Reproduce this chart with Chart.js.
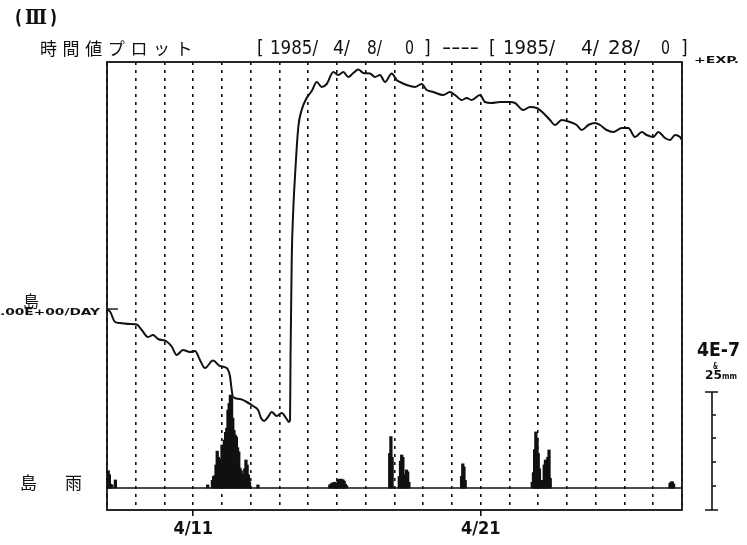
<!DOCTYPE html>
<html>
<head>
<meta charset="utf-8">
<script src="https://cdn.jsdelivr.net/npm/chart.js@4"></script>
<style>
  html, body { margin: 0; padding: 0; background: #fff; }
  #wrap { width: 747px; height: 545px; }
</style>
</head>
<body>
<div id="wrap"><canvas id="plot" width="747" height="545"></canvas></div>
<script>
// hours counted from 1985/4/8 0h
var LINE_HOURS = [0, 2.5, 6.7, 10.9, 19.2, 24.8, 29, 34.2, 38.4, 42.6, 49.8, 54, 58.2, 63.4, 69.3, 73.5,
    77.6, 81.8, 88.5, 94.3, 99.9, 102.7, 104.1, 105.2, 111, 116.6, 121.9, 126.1, 128.6, 131.1, 134.4,
    137.5, 141.7, 145.8, 150, 151.9, 152.8, 153.2, 154.2, 155.5, 156.9, 159.7, 162.5, 166.7, 170.9,
    175.1, 179.2, 183.4, 188.9, 193.1, 197.3, 201.4, 205.6, 209.8, 214, 219.5, 223.7, 227.9, 232.1,
    237.7, 241.8, 244.6, 250.2, 257.1, 262.7, 266.9, 272.4, 280.7, 286.3, 290.5, 296.1, 300.3, 304.4,
    311.4, 315.5, 321.1, 328.1, 336.4, 340.6, 347.5, 353.1, 358.7, 364.2, 369.8, 374, 379.6, 386.5,
    392.1, 396.3, 401.8, 407.4, 411.6, 417.1, 422.7, 429.7, 435.2, 440.8, 446.4, 450.5, 456.1, 460.2,
    465.8, 470, 474.2, 478.3, 480];
var LEVEL = [-0.02, -0.05, -0.26, -0.28, -0.30, -0.31, -0.42, -0.56, -0.52, -0.60, -0.65, -0.75, -0.92, -0.82, -0.86, -0.84,
    -1.02, -1.18, -1.03, -1.14, -1.18, -1.35, -1.62, -1.76, -1.80, -1.86, -1.94, -2.02, -2.18, -2.24, -2.16,
    -2.06, -2.14, -2.08, -2.20, -2.26, -2.22, -0.96, 0.98, 1.98, 2.64, 3.64, 3.98, 4.22, 4.36,
    4.54, 4.44, 4.50, 4.74, 4.68, 4.74, 4.64, 4.72, 4.79, 4.72, 4.71, 4.64, 4.68, 4.54,
    4.71, 4.58, 4.54, 4.48, 4.44, 4.50, 4.38, 4.34, 4.28, 4.34, 4.28, 4.18, 4.22, 4.18,
    4.28, 4.14, 4.12, 4.14, 4.14, 4.12, 3.98, 4.04, 4.02, 3.92, 3.78, 3.68, 3.78, 3.74,
    3.68, 3.58, 3.68, 3.72, 3.68, 3.58, 3.54, 3.62, 3.62, 3.44, 3.54, 3.48, 3.44, 3.54,
    3.42, 3.38, 3.48, 3.44, 3.38];

// hourly rain (mm), only the wet hours
var RAIN_HOURS = [0, 1, 2, 3, 4, 7,
    84, 88, 89, 90, 91, 92, 93, 94, 95, 96, 97, 98, 99, 100, 101, 102, 103, 104, 105, 106, 107, 108,
    109, 110, 111, 112, 113, 114, 115, 116, 117, 118, 119, 126,
    186, 187, 188, 189, 190, 191, 192, 193, 194, 195, 196, 197, 198, 199, 200,
    236, 237, 238, 244, 245, 246, 247, 248, 249, 250, 251, 252,
    296, 297, 298, 299,
    355, 356, 357, 358, 359, 360, 361, 362, 363, 364, 365, 366, 367, 368, 369, 370,
    470, 471, 472, 473];
var RAIN_MM = [4.2, 4.5, 3.5, 1.0, 0.8, 2.1,
    0.8, 2.0, 3.0, 3.2, 6.0, 9.6, 8.0, 5.2, 7.5, 11.2, 10.0, 12.5, 14.5, 15.6, 20.3, 22.0, 24.2, 23.4,
    18.2, 15.0, 13.8, 13.3, 10.5, 9.4, 5.2, 4.5, 3.6, 3.4, 5.0, 7.3, 6.0, 3.4, 1.6, 0.8,
    0.8, 1.0, 1.3, 1.3, 1.5, 1.3, 1.0, 2.1, 2.3, 1.3, 2.3, 2.1, 1.8, 1.0, 0.6,
    9.0, 13.4, 8.0, 3.0, 7.0, 8.6, 8.0, 3.5, 2.6, 4.7, 4.2, 1.5,
    3.0, 6.3, 5.5, 2.0,
    1.5, 4.0, 10.0, 14.6, 13.0, 9.0, 5.0, 2.0, 1.5, 2.0, 6.0, 7.3, 2.0, 8.0, 9.9, 2.5,
    1.2, 1.6, 1.6, 1.0];

var TICK_HOURS = [72, 312];
var TICK_LABELS = ['4/11', '4/21'];

var CJK = '"Noto Sans CJK JP", sans-serif';
var NUM = '"DejaVu Sans Condensed", "DejaVu Sans", sans-serif';
var INK = '#111';

function txt(ctx, s, x, y, size, family, w, weight) {
    ctx.save();
    ctx.font = (weight || 'normal') + ' ' + size + 'px ' + family;
    ctx.textBaseline = 'middle';
    ctx.textAlign = 'left';
    ctx.fillStyle = INK;
    var m = ctx.measureText(s).width;
    ctx.translate(x, y);
    if (w) ctx.scale(w / m, 1);
    ctx.fillText(s, 0, 0);
    ctx.restore();
}

var decor = {
    id: 'decor',
    afterDraw(chart) {
        var ctx = chart.ctx;
        var a = chart.chartArea;
        var yl = chart.scales.yLine;

        // frame
        ctx.save();
        ctx.strokeStyle = INK;
        ctx.lineWidth = 1.8;
        ctx.strokeRect(a.left, a.top, a.right - a.left, a.bottom - a.top);
        // zero mark on the left
        var y0 = yl.getPixelForValue(0);
        ctx.lineWidth = 1.4;
        ctx.beginPath();
        ctx.moveTo(a.left, y0);
        ctx.lineTo(a.left + 11, y0);
        ctx.stroke();
        // rain scale bar on the right
        ctx.lineWidth = 1.6;
        ctx.beginPath();
        ctx.moveTo(712, 392); ctx.lineTo(712, 510);
        ctx.moveTo(705, 392); ctx.lineTo(718, 392);
        ctx.moveTo(705, 510); ctx.lineTo(718, 510);
        [415, 438, 462, 486].forEach(function (t) {
            ctx.moveTo(712, t); ctx.lineTo(716, t);
        });
        ctx.stroke();
        ctx.restore();

        // texts
        txt(ctx, '(', 15, 19, 20, NUM, 7, 'bold');
        txt(ctx, 'Ⅲ', 25, 19, 20, '"DejaVu Serif", serif', 22, 'bold');
        txt(ctx, ')', 50, 19, 20, NUM, 7, 'bold');
        var title = '時間値プロット';
        for (var i = 0; i < title.length; i++) {
            txt(ctx, title[i], 40 + i * 22.6, 49, 17, CJK);
        }
        var parts = [['[', 257], ['1985/', 270, 48], ['4/', 333, 17], ['8/', 367, 15], ['0', 405, 9], [']', 424],
            ['----', 442, 37], ['[', 489], ['1985/', 503, 52], ['4/', 581, 18], ['28/', 608, 32], ['0', 661, 9], [']', 681]];
        parts.forEach(function (p) {
            txt(ctx, p[0], p[1], 49, 19, NUM, p[2]);
        });
        txt(ctx, '+EXP.', 694, 61, 9, NUM, 45, 'bold');
        txt(ctx, '島', 23, 301, 16, CJK);
        txt(ctx, '.00E+00/DAY', 0, 313, 9, NUM, 100, 'bold');
        txt(ctx, '4E-7', 697, 351, 20, NUM, 43, 'bold');
        txt(ctx, '&', 713, 367, 8, NUM, 5, 'bold');
        txt(ctx, '25', 705, 376, 13, NUM, 17, 'bold');
        txt(ctx, 'mm', 722, 377, 9, NUM, 15, 'bold');
        txt(ctx, '島', 20, 483, 17, CJK);
        txt(ctx, '雨', 65, 483, 17, CJK);
    }
};

var ctx = document.getElementById('plot').getContext('2d');
new Chart(ctx, {
    type: 'line',
    data: {
        datasets: [{
            label: 'level',
            data: LINE_HOURS.map(function (h, i) { return { x: h, y: LEVEL[i] }; }),
            yAxisID: 'yLine',
            borderColor: INK,
            borderWidth: 2,
            pointRadius: 0,
            cubicInterpolationMode: 'monotone',
            order: 1
        }, {
            type: 'bar',
            label: 'rain',
            data: RAIN_HOURS.map(function (h, i) { return { x: h, y: RAIN_MM[i] }; }),
            yAxisID: 'yRain',
            backgroundColor: INK,
            barThickness: 2.6,
            grouped: false,
            order: 2
        }, {
            label: 'base',
            data: [{ x: 0, y: 0 }, { x: 480, y: 0 }],
            yAxisID: 'yRain',
            borderColor: INK,
            borderWidth: 1.6,
            pointRadius: 0,
            order: 3
        }]
    },
    options: {
        responsive: false,
        animation: false,
        layout: { padding: { left: 107, right: 65, top: 62, bottom: 0 } },
        plugins: { legend: { display: false }, tooltip: { enabled: false } },
        scales: {
            x: {
                type: 'linear',
                min: 0,
                max: 480,
                offset: false,
                afterFit(scale) { scale.height = 35; },
                border: { display: false, dash: [3, 5] },
                grid: {
                    offset: false,
                    color: INK,
                    lineWidth: 1.6,
                    tickLength: 6,
                    tickBorderDash: [],
                    tickColor: function (c) {
                        return c.tick && TICK_HOURS.indexOf(c.tick.value) >= 0 ? INK : 'rgba(0,0,0,0)';
                    }
                },
                ticks: {
                    stepSize: 24,
                    autoSkip: false,
                    maxRotation: 0,
                    padding: 3,
                    color: INK,
                    font: { family: NUM, size: 18, weight: 'bold' },
                    callback: function (v) {
                        var k = TICK_HOURS.indexOf(v);
                        return k >= 0 ? TICK_LABELS[k] : '';
                    }
                }
            },
            yLine: { display: false, min: -4.02, max: 4.94 },
            yRain: { display: false, min: -5.73, max: 110.94 }
        }
    },
    plugins: [decor]
});
</script>
</body>
</html>
